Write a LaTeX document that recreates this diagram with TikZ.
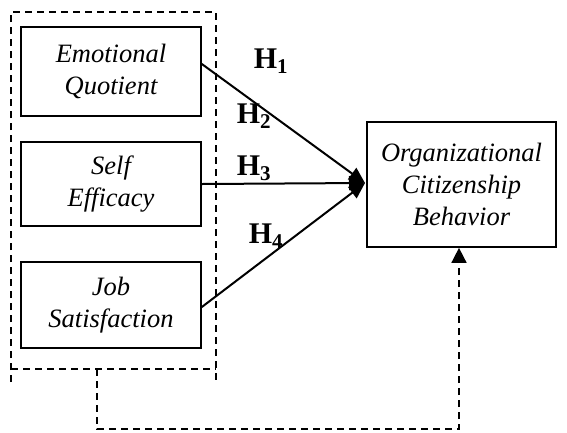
\documentclass[tikz,border=0pt]{standalone}
\usepackage{fontspec}
\setmainfont{Liberation Serif}
\usetikzlibrary{arrows.meta}
\begin{document}
\begin{tikzpicture}[x=1pt,y=-1pt,
  box/.style={draw,line width=1.7pt,inner sep=0pt,align=center,font=\fontsize{26.5}{32}\selectfont\itshape},
  hlab/.style={font=\fontsize{30}{32}\selectfont\bfseries,inner sep=0pt},
  link/.style={line width=2pt,-{Triangle[length=16pt,width=14pt]}},
  dashline/.style={line width=1.6pt,dash pattern=on 7pt off 5pt}]
\useasboundingbox (0,0) rectangle (567,432);
\node[box,minimum width=180pt,minimum height=89pt] (eq) at (111,71.5) {Emotional\\Quotient};
\node[box,minimum width=180pt,minimum height=84pt] (se) at (111,184) {Self\\Efficacy};
\node[box,minimum width=180pt,minimum height=86pt] (js) at (111,305) {Job\\Satisfaction};
\node[box,minimum width=189pt,minimum height=125pt] (ocb) at (461.5,184.5) {Organizational\\Citizenship\\Behavior};
\coordinate (tip) at (365,183);
\draw[link] (eq.east |- 0,64) -- (tip);
\draw[link] (se.east |- 0,184) -- (tip);
\draw[link] (js.east |- 0,307) -- (tip);
\node[hlab] (h1) at (271,61) {H\textsubscript{1}};
\node[hlab] (h2) at (254,116) {H\textsubscript{2}};
\node[hlab] (h3) at (254,168) {H\textsubscript{3}};
\node[hlab] (h4) at (266,236) {H\textsubscript{4}};
\draw[dashline] (11,382) -- (11,12) -- (216,12) -- (216,382);
\draw[dashline] (11,369) -- (216,369);
\coordinate (fb0) at (97,369);
\coordinate (fb1) at (97,429);
\coordinate (fb2) at (459,429);
\draw[dashline,-{Triangle[length=15pt,width=15pt]}] (fb0) -- (fb1) -- (fb2) -- (fb2 |- ocb.south);
\end{tikzpicture}
\end{document}
